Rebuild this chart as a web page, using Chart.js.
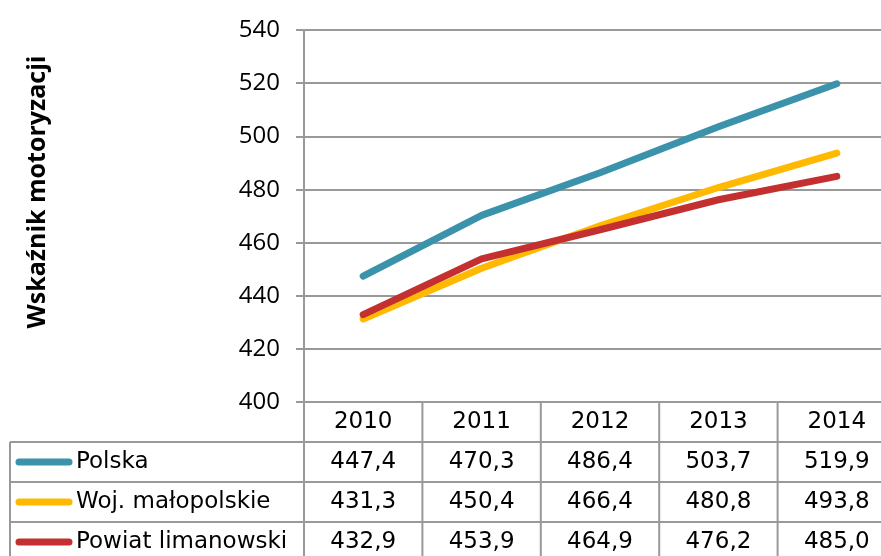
<!DOCTYPE html>
<html>
<head>
<meta charset="utf-8">
<script src="https://cdn.jsdelivr.net/npm/chart.js@4/dist/chart.umd.min.js"></script>
<style>
  html, body { margin: 0; padding: 0; background: #fff; overflow: hidden; }
  #wrap { width: 896px; height: 556px; }
</style>
</head>
<body>
<div id="wrap"><canvas id="chart" width="896" height="556"></canvas></div>
<script>
const years = ["2010", "2011", "2012", "2013", "2014"];
const seriesNames = ["Polska", "Woj. małopolskie", "Powiat limanowski"];
const polska = [447.4, 470.3, 486.4, 503.7, 519.9];
const malopolskie = [431.3, 450.4, 466.4, 480.8, 493.8];
const limanowski = [432.9, 453.9, 464.9, 476.2, 485.0];
const colors = ["#3A93AA", "#FFB900", "#C4302F"];
const yTitle = "Wskaźnik motoryzacji";

const gridColor = "#999999";
const allSeries = [polska, malopolskie, limanowski];

// data table drawn under the plot (Excel style)
const dataTable = {
  id: "dataTable",
  afterDraw(chart) {
    const ctx = chart.ctx;
    const area = chart.chartArea;
    const xs = chart.scales.x;
    const colW = (area.right - area.left) / years.length;
    const top = area.bottom;
    const rowH = 40;
    const tableLeft = 10;
    const bottom = chart.height + 10;

    ctx.save();
    ctx.strokeStyle = gridColor;
    ctx.lineWidth = 2;
    ctx.beginPath();
    for (let r = 1; r <= 3; r++) {
      const y = top + r * rowH;
      ctx.moveTo(tableLeft, y);
      ctx.lineTo(area.right, y);
    }
    for (let k = 0; k <= years.length; k++) {
      const x = area.left + k * colW;
      ctx.moveTo(x, top);
      ctx.lineTo(x, bottom);
    }
    ctx.moveTo(tableLeft, top + rowH);
    ctx.lineTo(tableLeft, bottom);
    ctx.stroke();

    ctx.fillStyle = "#000";
    ctx.font = "23px 'DejaVu Sans'";
    ctx.textBaseline = "middle";
    ctx.textAlign = "center";
    years.forEach((yr, i) => {
      ctx.fillText(yr, xs.getPixelForValue(i), top + rowH / 2);
    });

    seriesNames.forEach((name, s) => {
      const cy = top + rowH * (s + 1) + rowH / 2;
      ctx.strokeStyle = colors[s];
      ctx.lineWidth = 7;
      ctx.lineCap = "round";
      ctx.beginPath();
      ctx.moveTo(19, cy);
      ctx.lineTo(69, cy);
      ctx.stroke();
      ctx.textAlign = "left";
      ctx.fillText(name, 76, cy);
      ctx.textAlign = "center";
      allSeries[s].forEach((v, i) => {
        ctx.fillText(v.toFixed(1).replace(".", ","), xs.getPixelForValue(i), cy);
      });
    });

    // y axis title
    ctx.translate(38, 192);
    ctx.rotate(-Math.PI / 2);
    ctx.font = "bold 25px 'Open Sans'";
    ctx.textAlign = "center";
    ctx.fillText(yTitle, 0, 0);
    ctx.restore();
  }
};

new Chart(document.getElementById("chart"), {
  type: "line",
  data: {
    labels: years,
    datasets: [
      { label: seriesNames[0], data: polska, borderColor: colors[0], order: 2 },
      { label: seriesNames[1], data: malopolskie, borderColor: colors[1], order: 1 },
      { label: seriesNames[2], data: limanowski, borderColor: colors[2], order: 0 }
    ]
  },
  options: {
    responsive: false,
    animation: false,
    layout: { padding: { top: 28, bottom: 154, left: 0, right: 0 } },
    elements: {
      line: { borderWidth: 7, borderCapStyle: "round", borderJoinStyle: "round", tension: 0 },
      point: { radius: 0 }
    },
    plugins: { legend: { display: false }, tooltip: { enabled: false } },
    scales: {
      x: { display: false, offset: true },
      y: {
        min: 400, max: 540,
        ticks: { stepSize: 20, padding: 16, color: "#000", font: { family: "'Open Sans'", size: 24 } },
        grid: { color: gridColor, lineWidth: 2, tickLength: 8 },
        border: { color: gridColor, width: 2 },
        afterFit(scale) { scale.width = 304; }
      }
    }
  },
  plugins: [dataTable]
});
</script>
</body>
</html>
